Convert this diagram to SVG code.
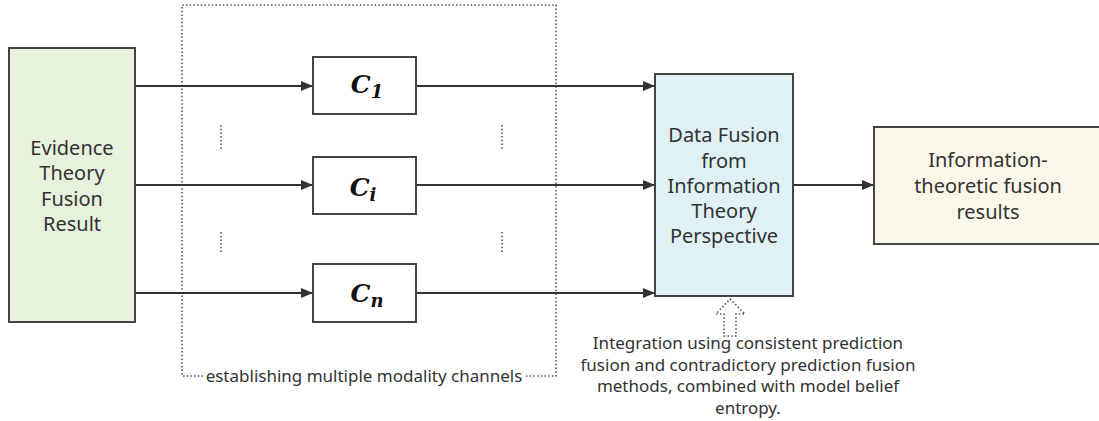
<svg xmlns="http://www.w3.org/2000/svg" width="1099" height="421" viewBox="0 0 1099 421">
  <style>
    .box { stroke: #444; stroke-width: 2; }
    .lbl { font-family: "Noto Sans", "Open Sans", sans-serif; fill: #333; text-anchor: middle; }
    .big { font-size: 20px; }
    .small { font-size: 17px; }
    .math { font-family: "DejaVu Serif", "Liberation Serif", serif; font-style: italic; font-weight: bold; fill: #111; text-anchor: middle; }
    .wire { stroke: #333; stroke-width: 1.8; fill: none; }
    .dots { stroke: #555; stroke-width: 1.6; fill: none; stroke-dasharray: 1.5 2.2; }
  </style>
  <defs>
    <marker id="arrow" viewBox="0 0 12 10" refX="12" refY="5" markerWidth="12" markerHeight="10" markerUnits="userSpaceOnUse" orient="auto">
      <path d="M0,0 L12,5 L0,10 Z" fill="#333"/>
    </marker>
  </defs>

  <rect width="1099" height="421" fill="#ffffff"/>

  <!-- channel frame with its caption -->
  <g id="channel-frame">
    <path class="dots" d="M203,376 H182 V5 H556 V376 H526"/>
    <text class="lbl small" x="364" y="382">establishing multiple modality channels</text>
    <path class="dots" d="M221,125 V150 M221,232 V252 M502,125 V150 M502,232 V252"/>
  </g>

  <!-- connectors -->
  <g id="connectors">
    <path class="wire" d="M135,86 H313" marker-end="url(#arrow)"/>
    <path class="wire" d="M135,185 H313" marker-end="url(#arrow)"/>
    <path class="wire" d="M135,293 H313" marker-end="url(#arrow)"/>
    <path class="wire" d="M416,86 H655" marker-end="url(#arrow)"/>
    <path class="wire" d="M416,185 H655" marker-end="url(#arrow)"/>
    <path class="wire" d="M416,293 H655" marker-end="url(#arrow)"/>
    <path class="wire" d="M793,185 H874" marker-end="url(#arrow)"/>
  </g>

  <g id="evidence-result">
    <rect class="box" x="9" y="48" width="126" height="274" fill="#e6f2dc"/>
    <text class="lbl big" x="72" y="155">Evidence</text>
    <text class="lbl big" x="72" y="180">Theory</text>
    <text class="lbl big" x="72" y="206">Fusion</text>
    <text class="lbl big" x="72" y="231">Result</text>
  </g>

  <g id="channel-1">
    <rect class="box" x="313" y="57" width="103" height="57" fill="#ffffff"/>
    <text class="math" x="367" y="93" font-size="25">C<tspan font-size="18" dy="5">1</tspan></text>
  </g>

  <g id="channel-i">
    <rect class="box" x="313" y="157" width="103" height="57" fill="#ffffff"/>
    <text class="math" x="363" y="196" font-size="25">C<tspan font-size="18" dy="5">i</tspan></text>
  </g>

  <g id="channel-n">
    <rect class="box" x="313" y="264" width="103" height="58" fill="#ffffff"/>
    <text class="math" x="367" y="302" font-size="25">C<tspan font-size="18" dy="5">n</tspan></text>
  </g>

  <g id="info-fusion">
    <rect class="box" x="655" y="74" width="138" height="222" fill="#dff1f5"/>
    <text class="lbl big" x="724" y="142">Data Fusion</text>
    <text class="lbl big" x="724" y="168">from</text>
    <text class="lbl big" x="724" y="193">Information</text>
    <text class="lbl big" x="724" y="218">Theory</text>
    <text class="lbl big" x="724" y="243">Perspective</text>
  </g>

  <g id="fusion-results">
    <rect class="box" x="874" y="127" width="235" height="117" fill="#fbf8ea"/>
    <text class="lbl big" x="988" y="167">Information-</text>
    <text class="lbl big" x="988" y="193">theoretic fusion</text>
    <text class="lbl big" x="988" y="219">results</text>
  </g>

  <g id="integration-note">
    <path class="dots" d="M730,299 L745,314 H736 V336 H724 V314 H716 Z"/>
    <text class="lbl small" x="748" y="349">Integration using consistent prediction</text>
    <text class="lbl small" x="748" y="370.5">fusion and contradictory prediction fusion</text>
    <text class="lbl small" x="748" y="392">methods, combined with model belief</text>
    <text class="lbl small" x="748" y="414">entropy.</text>
  </g>
</svg>
